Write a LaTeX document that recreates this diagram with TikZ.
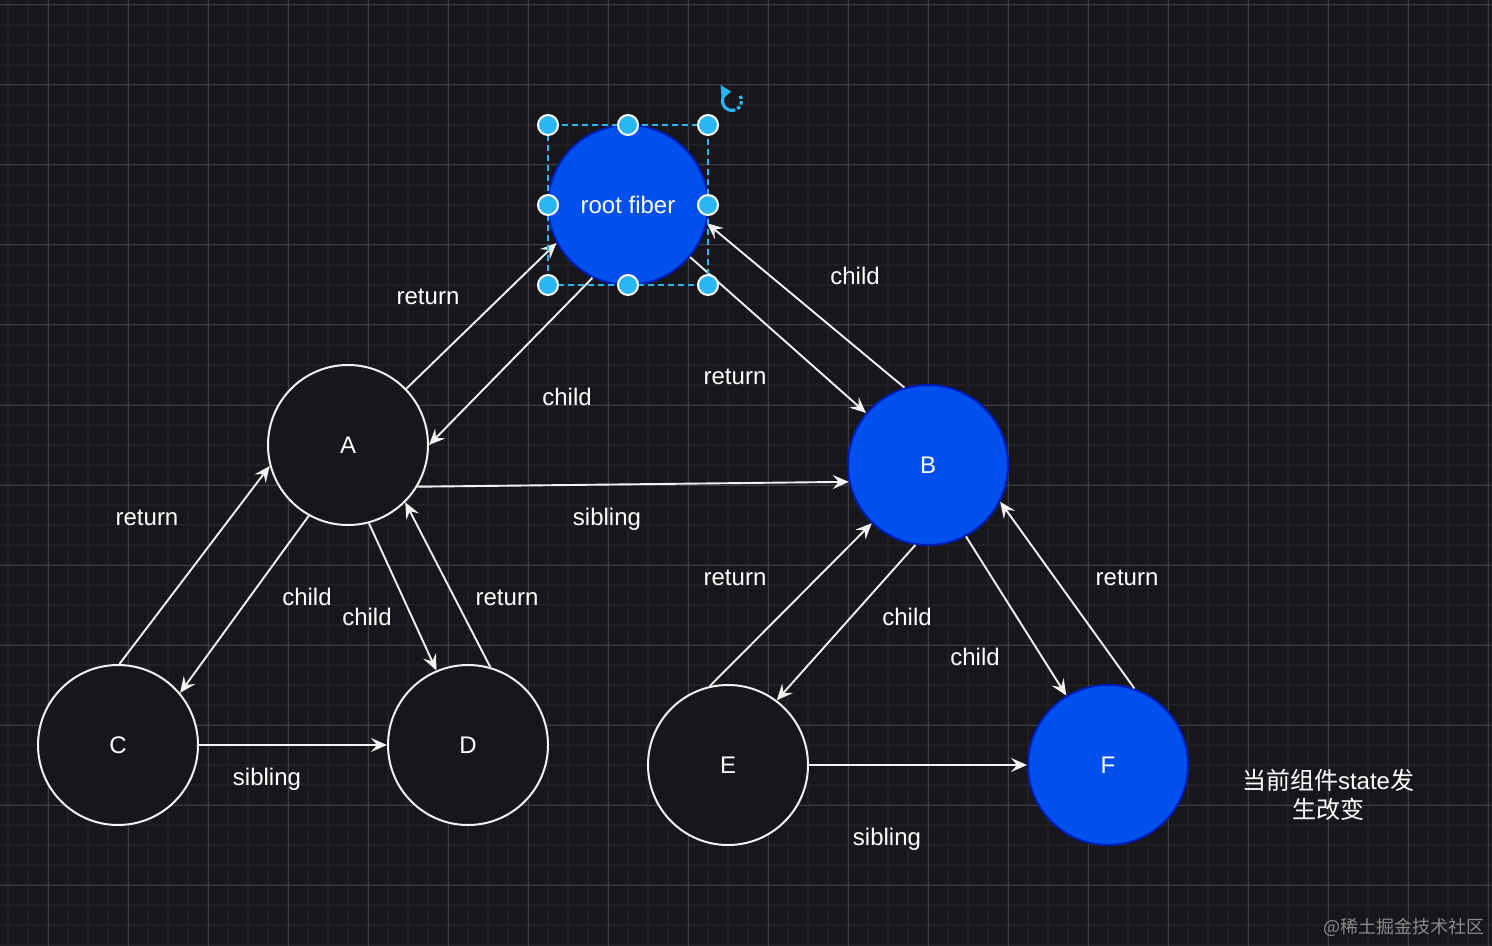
\documentclass[tikz,border=0pt]{standalone}
\usepackage{fontspec}
\setmainfont{Liberation Sans}
\newfontfamily\cjkfont{Noto Sans CJK SC}
\usepackage{xcolor}
\usepackage{tikz}
\usetikzlibrary{arrows.meta}
\definecolor{kbg}{HTML}{17161B}
\definecolor{kgridminor}{HTML}{201F25}
\definecolor{kgridmajor}{HTML}{3E3D44}
\definecolor{kblue}{HTML}{0050EF}
\definecolor{kblueedge}{HTML}{001DBC}
\definecolor{kcyan}{HTML}{29B6F2}
\definecolor{kline}{HTML}{F2F2F2}
\definecolor{kmark}{HTML}{8A8A8A}

\begin{document}
\begin{tikzpicture}[x=0.5pt, y=-0.5pt,
  fiber/.style={circle, draw=kline, line width=1pt, fill=kbg, minimum size=80pt,
    inner sep=0pt, text=white, font=\fontsize{12}{14}\selectfont},
  bluefiber/.style={fiber, fill=kblue, draw=kblueedge},
  lbl/.style={text=white, font=\fontsize{12}{14}\selectfont, inner sep=0pt,
    text height=11pt, text depth=2pt},
  link/.style={draw=kline, line width=0.95pt, -{Stealth[length=8pt, width=7pt, inset=3pt]}},
  handle/.style={circle, fill=kcyan, draw=white, line width=1pt, minimum size=10pt, inner sep=0pt},
  selbox/.style={draw=kcyan, line width=0.75pt, dash pattern=on 3pt off 2pt}]
\useasboundingbox (0,0) rectangle (1492,946);
\fill[kbg] (0,0) rectangle (1492,946);
\foreach \gx in {8,28,...,1488} \draw[kgridminor, line width=1pt] (\gx,0) -- (\gx,946);
\foreach \gy in {5,25,...,945} \draw[kgridminor, line width=1pt] (0,\gy) -- (1492,\gy);
\foreach \gx in {48,128,...,1488} \draw[kgridmajor, line width=0.5pt] (\gx,0) -- (\gx,946);
\foreach \gy in {5,85,...,885} \draw[kgridmajor, line width=0.5pt] (0,\gy) -- (1492,\gy);

\node[bluefiber] (root) at (628,205) {root fiber};
\node[fiber] (A) at (348,445) {A};
\node[bluefiber] (B) at (928,465) {B};
\node[fiber] (C) at (118,745) {C};
\node[fiber] (D) at (468,745) {D};
\node[fiber] (E) at (728,765) {E};
\node[bluefiber] (F) at (1108,765) {F};

\draw[link] (A.44) -- (root.208);
\draw[link] (root.244) -- (A.0);
\draw[link] (root.-40) -- (B.140);
\draw[link] (B.107) -- (root.-13);
\draw[link] (A.-31) -- (B.192);
\draw[link] (C.89) -- (A.195);
\draw[link] (A.241) -- (C.40);
\draw[link] (A.-75) -- (D.113);
\draw[link] (D.74) -- (A.-45);
\draw[link] (C.east) -- (D.west);
\draw[link] (E.103) -- (B.226);
\draw[link] (B.261) -- (E.53);
\draw[link] (B.-62) -- (F.121);
\draw[link] (F.71) -- (B.-27);
\draw[link] (E.east) -- (F.west);

\node[lbl] (rootret) at (428,296) {return};
\node[lbl] (rootchild) at (567,396) {child};
\node[lbl] (bret) at (735,376) {return};
\node[lbl] (bchild) at (855,276) {child};
\node[lbl] (absib) at (607,516) {sibling};
\node[lbl] (cret) at (147,516) {return};
\node[lbl] (cchild) at (307,596) {child};
\node[lbl] (dchild) at (367,616) {child};
\node[lbl] (dret) at (507,596) {return};
\node[lbl] (cdsib) at (267,776) {sibling};
\node[lbl] (eret) at (735,576) {return};
\node[lbl] (echild) at (907,616) {child};
\node[lbl] (fchild) at (975,656) {child};
\node[lbl] (fret) at (1127,576) {return};
\node[lbl] (efsib) at (887,836) {sibling};

\node[text=white, font=\fontsize{12}{14.5}\selectfont, align=center, inner sep=0pt]
  (note) at (1328,795) {{\cjkfont 当前组件}state{\cjkfont 发}\\{\cjkfont 生改变}};
\node[text=kmark, font=\cjkfont\fontsize{9}{10}\selectfont, inner sep=0pt]
  (mark) at (1404,927) {@稀土掘金技术社区};

\draw[selbox] (548,125) rectangle (708,285);
\foreach \hx/\hy [count=\k] in {548/125, 628/125, 708/125, 548/205, 708/205, 548/285, 628/285, 708/285}
  \node[handle] (h\k) at (\hx,\hy) {};
\draw[kcyan, line width=1.6pt, {Triangle[length=5pt, width=7pt]}-] (732,101) ++(265:9.5) arc[start angle=265, end angle=90, radius=9.5];
\draw[kcyan, line width=1.6pt, dash pattern=on 1.7pt off 1.1pt] (732,101) ++(90:9.5) arc[start angle=90, end angle=-35, radius=9.5];
\end{tikzpicture}
\end{document}
